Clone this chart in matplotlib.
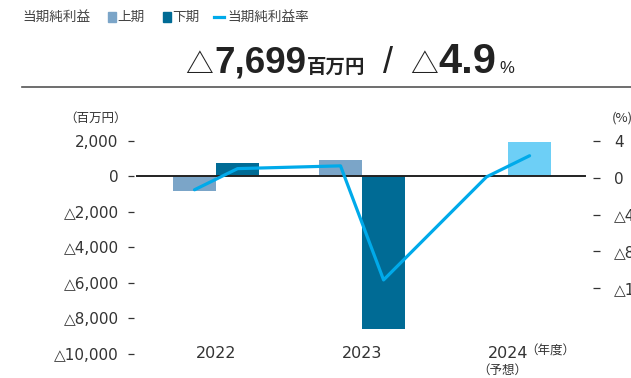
import matplotlib
matplotlib.use('Agg')
import matplotlib.pyplot as plt
import numpy as np

plt.rcParams['font.family'] = ['DejaVu Sans', 'Noto Sans CJK JP']

years = ['2022', '2023', '2024']
h1 = [-830, 900, 60]        # 上期 (百万円)
h2 = [730, -8620, 1930]     # 下期 (百万円)
rate = [-1.3, 1.0, 1.3, -11.1, 0.1, 2.4]   # 当期純利益率 (%)
forecast = [False, False, True]

left_ticks = [2000, 0, -2000, -4000, -6000, -8000, -10000]
right_ticks = [4, 0, -4, -8, -12]

c_h1 = '#7ba5c8'
c_h2 = '#006b95'
c_fc = '#6dcff6'
c_line = '#00aaea'
c_txt = '#333333'
jp = ['Noto Sans CJK JP', 'DejaVu Sans']

def tri(v):
    return '0' if v == 0 else ('△' + f'{abs(v):,}' if v < 0 else f'{v:,}')

fig = plt.figure(figsize=(6.31, 3.78), dpi=100)
ax = fig.add_axes([134 / 631, 1 - 354 / 378, (593 - 134) / 631, 222 / 378])

w = 0.295
x = np.arange(len(years))
ax.bar(x - w / 2, h1, w, align='center',
       color=[c_fc if f else c_h1 for f in forecast], zorder=2)
ax.bar(x + w / 2, h2, w, align='center',
       color=[c_fc if f else c_h2 for f in forecast], zorder=2)
ax.axhline(0, xmin=0.0065, xmax=0.982, color='#222222', lw=1.4, zorder=3)

ax.set_xlim(-0.562, 2.582)
ax.set_ylim(-10000, 2500)
ax.set_yticks(left_ticks)
ax.set_yticklabels([tri(v) for v in left_ticks])
ax.set_xticks([])
for s in ax.spines.values():
    s.set_visible(False)
ax.tick_params(axis='y', length=4, width=0.9, color=c_txt, pad=7,
               labelsize=11, labelcolor=c_txt)

ax2 = ax.twinx()
lx = np.ravel(np.column_stack([x - w / 2, x + w / 2]))
ax2.plot(lx, rate, color=c_line, lw=2.3, solid_capstyle='round', zorder=4)
ax2.set_ylim(-19.15, 4.98)
ax2.set_yticks(right_ticks)
ax2.set_yticklabels([tri(v) for v in right_ticks])
for s in ax2.spines.values():
    s.set_visible(False)
ax2.tick_params(axis='y', length=5, width=0.9, color=c_txt, pad=10,
                labelsize=11, labelcolor=c_txt)
ax.set_zorder(1)
ax2.set_zorder(2)
ax2.patch.set_visible(False)

# x labels
for i, y in enumerate(years):
    ax.text(i, -9950, y, ha='center', va='center', fontsize=11.5, color=c_txt)
ax.text(2.12, -9850, '（年度）', ha='left', va='center', fontsize=9, color=c_txt, family=jp)
ax.text(1.79, -10900, '（予想）', ha='left', va='center', fontsize=9, color=c_txt, family=jp)

fig.text(96 / 631, 1 - 118 / 378, '（百万円）', ha='center', va='center', fontsize=9,
         color=c_txt, family=jp)
fig.text(612 / 631, 1 - 118 / 378, '(%)', ha='left', va='center', fontsize=9.5,
         color=c_txt, family=jp)

# header legend
fy = 1 - 17 / 378
hl = dict(ha='left', va='center', fontsize=9.8, color='#444444', family=jp)
fig.text(22 / 631, fy, '当期純利益', **hl)
fig.patches.append(plt.Rectangle((108 / 631, 1 - 21.5 / 378), 8 / 631, 9 / 378,
                                 transform=fig.transFigure, color=c_h1))
fig.text(117 / 631, fy, '上期', **hl)
fig.patches.append(plt.Rectangle((163 / 631, 1 - 21.5 / 378), 8 / 631, 9 / 378,
                                 transform=fig.transFigure, color=c_h2))
fig.text(172 / 631, fy, '下期', **hl)
fig.add_artist(plt.Line2D([214 / 631, 224 / 631], [fy, fy], color=c_line, lw=2.3))
fig.text(227 / 631, fy, '当期純利益率', **hl)

# headline figures
by = 1 - 73 / 378
big = dict(ha='left', va='baseline', color='#222222', fontweight='bold',
           family=['Liberation Sans', 'DejaVu Sans'])
fig.text(185 / 631, by, '△', ha='left', fontsize=20, color='#222222', va='baseline',
         family=jp)
fig.text(214 / 631, by, '7,699', fontsize=26.5, **big)
fig.text(307 / 631, by, '百万円', ha='left', va='baseline', fontsize=14, color='#222222',
         fontweight='bold', family=jp)
fig.text(388 / 631, by, '/', ha='center', va='baseline', fontsize=26, color='#222222',
         family=['Liberation Sans'])
fig.text(410 / 631, by, '△', ha='left', fontsize=20, color='#222222', va='baseline',
         family=jp)
fig.text(438 / 631, by, '4.9', fontsize=30, **big)
fig.text(499 / 631, by, '%', ha='left', va='baseline', fontsize=12, color='#222222',
         family=['Liberation Sans'])

fig.add_artist(plt.Line2D([22 / 631, 1], [1 - 87 / 378, 1 - 87 / 378], color='#555555', lw=1.2))

fig.savefig('out.png', dpi=100)
